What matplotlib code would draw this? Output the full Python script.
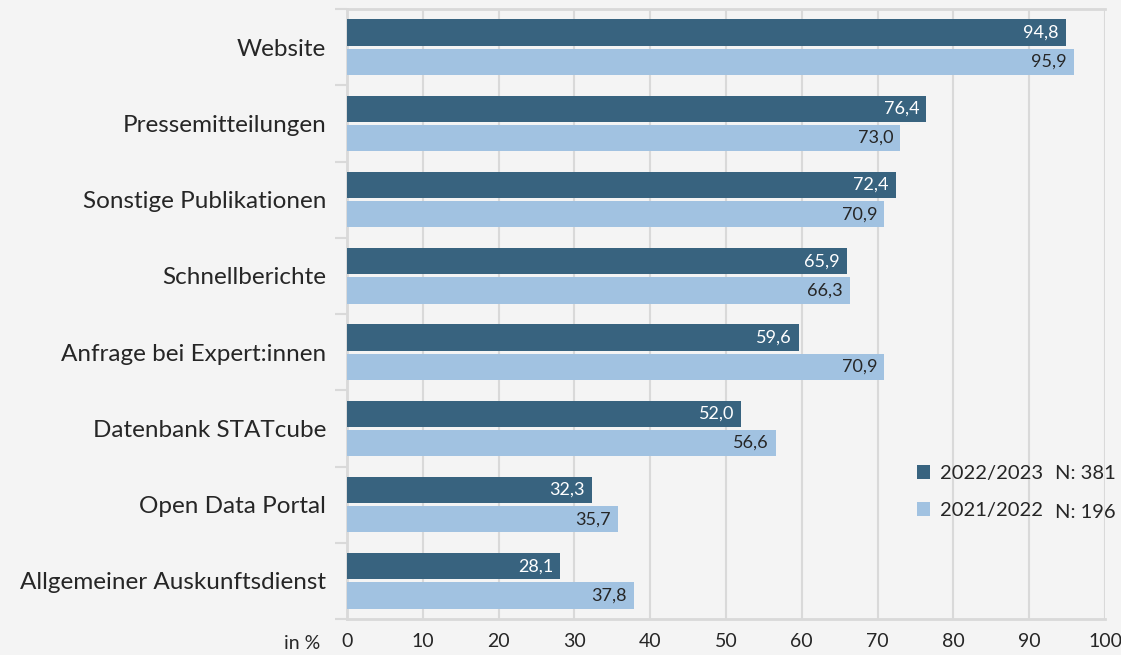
import matplotlib.pyplot as plt
import numpy as np

plt.rcParams['font.family'] = ['Lato', 'DejaVu Sans']

# data
categories = ["Website", "Pressemitteilungen", "Sonstige Publikationen", "Schnellberichte",
              "Anfrage bei Expert:innen", "Datenbank STATcube", "Open Data Portal",
              "Allgemeiner Auskunftsdienst"]
vals_2223 = [94.8, 76.4, 72.4, 65.9, 59.6, 52.0, 32.3, 28.1]
vals_2122 = [95.9, 73.0, 70.9, 66.3, 70.9, 56.6, 35.7, 37.8]
series = ["2022/2023", "2021/2022"]
n_counts = [381, 196]
xticks = [0, 10, 20, 30, 40, 50, 60, 70, 80, 90, 100]

dark = '#38637f'
light = '#a1c2e1'
bg = '#f4f4f4'
grid = '#d9d9d9'
txt = '#262626'

fig = plt.figure(figsize=(11.21, 6.55), dpi=100, facecolor=bg)
ax = fig.add_axes([347/1121, 1-619/655, (1105-347)/1121, 610/655])
ax.set_facecolor(bg)

y = np.arange(len(categories))
h = 0.345
b1 = ax.barh(y - h/2 - 0.02, vals_2223, height=h, color=dark, label=series[0], zorder=3)
b2 = ax.barh(y + h/2 + 0.02, vals_2122, height=h, color=light, label=series[1], zorder=3)

def fmt(v):
    return f"{v:.1f}".replace('.', ',')

for bars, vals, col in [(b1, vals_2223, 'white'), (b2, vals_2122, txt)]:
    for r, v in zip(bars, vals):
        ax.annotate(fmt(v), (v, r.get_y() + r.get_height()/2), xytext=(-5, 0),
                    textcoords='offset points', ha='right', va='center',
                    fontsize=13, color=col, zorder=4)

ax.set_xlim(0, 100)
ax.set_ylim(len(categories) - 0.5, -0.5)
ax.set_xticks(xticks)
ax.set_xticklabels([str(t) for t in xticks])
ax.set_yticks(y)
ax.set_yticklabels(categories, fontsize=17.5, color=txt)
ax.tick_params(axis='y', length=0, pad=15)
ax.set_yticks(np.arange(len(categories) + 1) - 0.5, minor=True)
ax.tick_params(axis='y', which='minor', length=9, width=1.5, color=grid)
ax.tick_params(axis='x', length=0, pad=10, labelsize=14, labelcolor=txt)
ax.xaxis.grid(True, color=grid, linewidth=1.5, zorder=0)

ax.spines['right'].set_visible(False)
for s in ['left', 'top', 'bottom']:
    ax.spines[s].set_color(grid)
    ax.spines[s].set_linewidth(2)

ax.text(-3.5, -0.04, "in %", transform=ax.get_xaxis_transform(), ha='right', va='center',
        fontsize=14, color=txt)

leg = ax.legend(loc='upper left', bbox_to_anchor=(0.728, 0.282), frameon=False, fontsize=14.5,
                handlelength=0.65, handleheight=0.65, handletextpad=0.5, labelspacing=1.0,
                labelcolor=txt)
for i, n in enumerate(n_counts):
    ax.text(0.934, 0.239 - i*0.064, f"N: {n}", transform=ax.transAxes, ha='left', va='center',
            fontsize=14.5, color=txt)

fig.savefig('out.png', dpi=100, facecolor=bg)
